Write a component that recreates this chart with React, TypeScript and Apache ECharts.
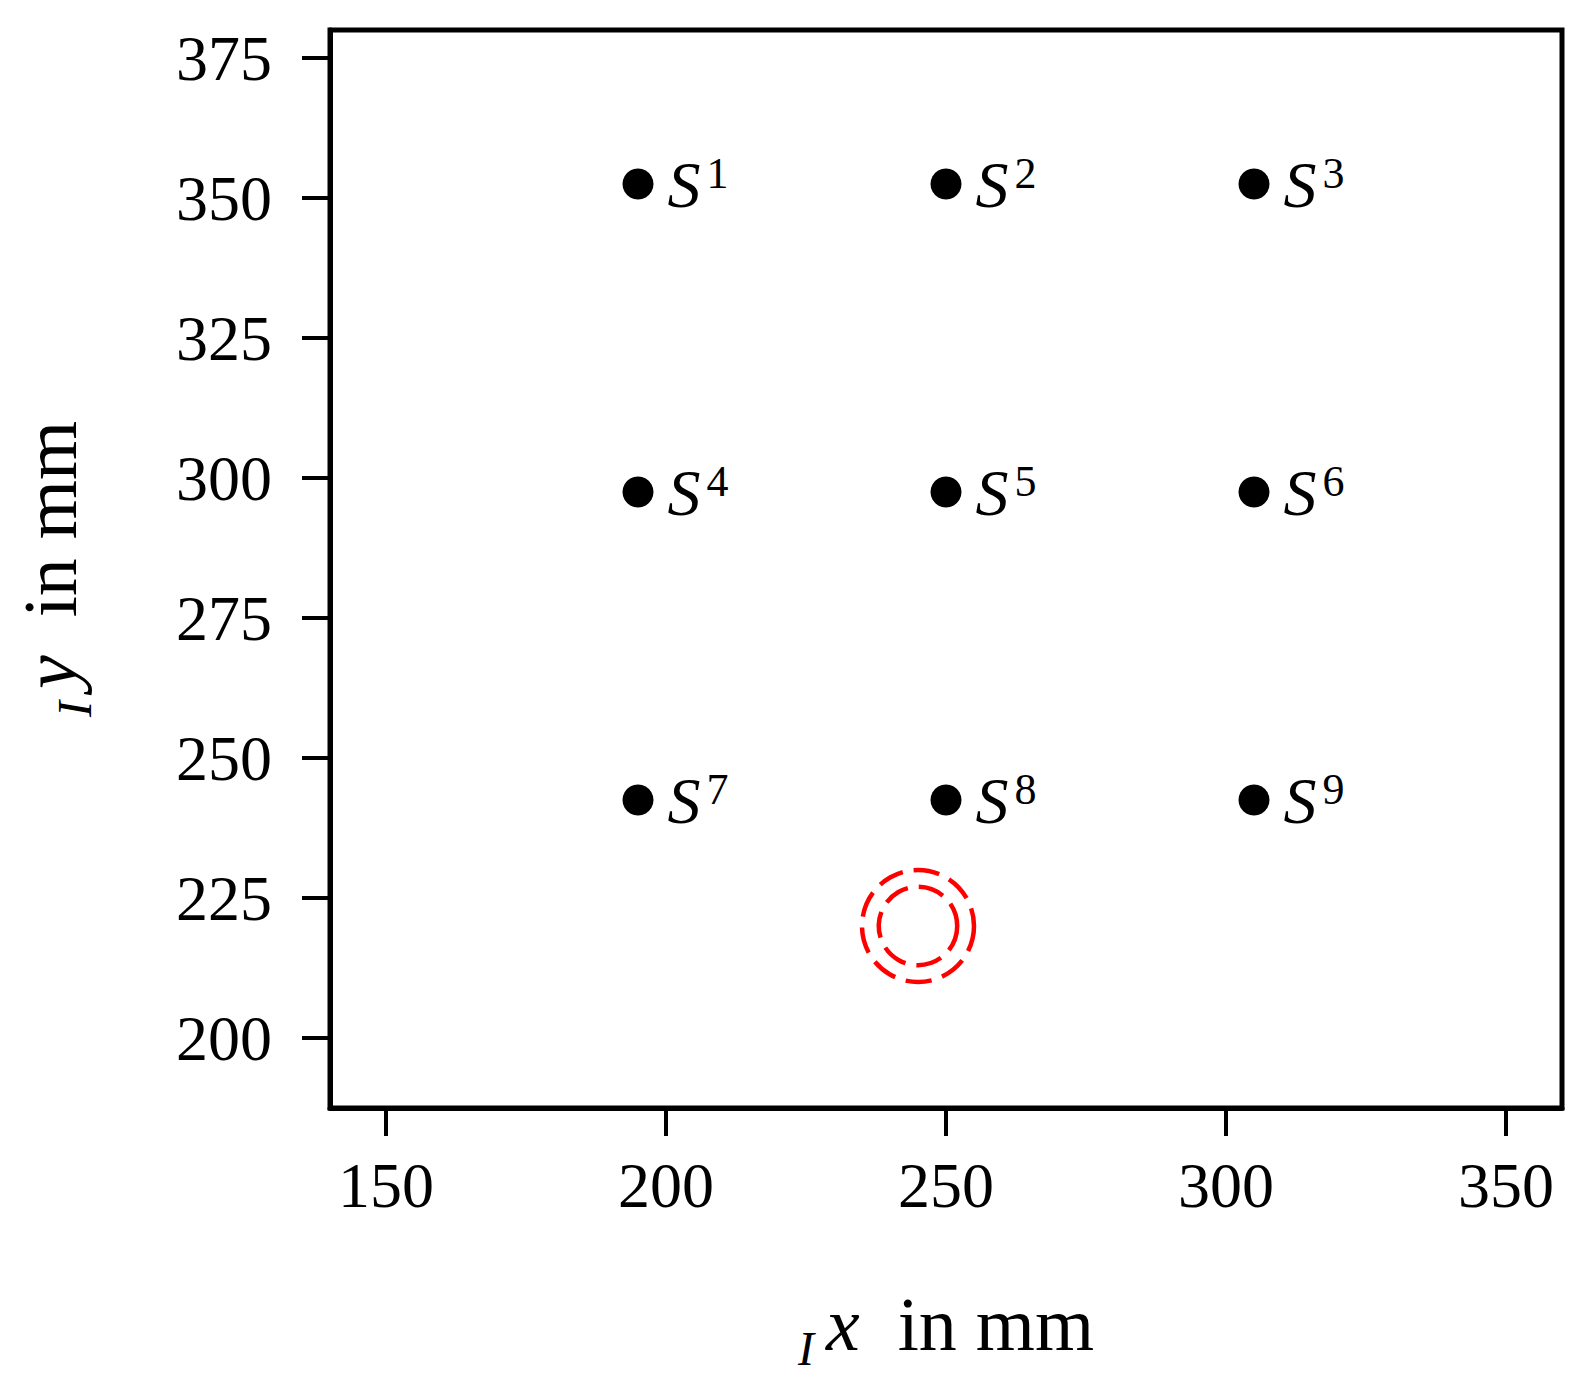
import React, { useEffect, useRef } from "react";
import * as echarts from "echarts";

const xTicks = [150, 200, 250, 300, 350];
const yTicks = [200, 225, 250, 275, 300, 325, 350, 375];
const xRange = [140, 360];
const yRange = [187.5, 380];

const sensorX = [195, 250, 305, 195, 250, 305, 195, 250, 305];
const sensorY = [352.5, 352.5, 352.5, 297.5, 297.5, 297.5, 242.5, 242.5, 242.5];
const sensorIndex = ["1", "2", "3", "4", "5", "6", "7", "8", "9"];

const ringX = [245, 245];
const ringY = [220, 220];
const ringRadius = [10, 7];

const FONT = "'Liberation Serif', 'DejaVu Serif', serif";

const nameRich = {
  sub: { fontFamily: FONT, fontStyle: "italic", fontSize: 48, verticalAlign: "bottom", lineHeight: 96, color: "#000", padding: [0, 12, 0, 0] },
  it: { fontFamily: FONT, fontStyle: "italic", fontSize: 76, lineHeight: 76, color: "#000" },
  n: { fontFamily: FONT, fontSize: 76, lineHeight: 76, color: "#000" },
};

export default function App() {
  const ref = useRef<HTMLDivElement>(null);
  useEffect(() => {
    if (!ref.current) return;
    const chart = echarts.init(ref.current, null, { renderer: "svg" });
    const sensors = sensorX.map((x, i) => [x, sensorY[i], sensorIndex[i]]);
    const rings = ringX.map((x, i) => [x, ringY[i], ringRadius[i]]);
    chart.setOption({
      animation: false,
      backgroundColor: "#fff",
      grid: {
        left: 330,
        top: 30,
        width: 1232,
        height: 1078,
        show: true,
        borderColor: "#000",
        borderWidth: 5,
        containLabel: false,
        outerBoundsMode: "none",
      },
      xAxis: {
        type: "value",
        min: xRange[0],
        max: xRange[1],
        splitLine: { show: false },
        axisLine: { show: true, lineStyle: { color: "#000", width: 5 } },
        axisTick: {
          show: true,
          length: 28,
          lineStyle: { color: "#000", width: 4 },
          customValues: xTicks,
        },
        axisLabel: {
          customValues: xTicks,
          color: "#000",
          fontFamily: FONT,
          fontSize: 64,
          margin: 45,
        },
        name: "{sub|I}{it|x}{n|  in mm}",
        nameLocation: "middle",
        nameGap: 168,
        nameTextStyle: { color: "#000", fontFamily: FONT, fontSize: 76, rich: nameRich },
      },
      yAxis: {
        type: "value",
        min: yRange[0],
        max: yRange[1],
        splitLine: { show: false },
        axisLine: { show: true, lineStyle: { color: "#000", width: 5 } },
        axisTick: {
          show: true,
          length: 28,
          lineStyle: { color: "#000", width: 4 },
          customValues: yTicks,
        },
        axisLabel: {
          customValues: yTicks,
          color: "#000",
          fontFamily: FONT,
          fontSize: 64,
          margin: 58,
        },
        name: "{sub|I}{it|y}{n|  in mm}",
        nameLocation: "middle",
        nameGap: 232,
        nameTextStyle: { color: "#000", fontFamily: FONT, fontSize: 76, rich: nameRich },
      },
      series: [
        {
          type: "scatter",
          data: sensors,
          symbol: "circle",
          symbolSize: 31,
          itemStyle: { color: "#000", opacity: 1 },
          label: {
            show: true,
            position: "right",
            distance: 14,
            color: "#000",
            formatter: (p: any) => `{s|S}{sup|${p.data[2]}}`,
            rich: {
              s: { fontFamily: FONT, fontStyle: "italic", fontSize: 66, lineHeight: 66, color: "#000" },
              sup: { fontFamily: FONT, fontSize: 44, lineHeight: 66, verticalAlign: "top", color: "#000", padding: [0, 0, 0, 6] },
            },
          },
          emphasis: { disabled: true },
        },
        {
          type: "custom",
          data: rings,
          renderItem: (params: any, api: any) => {
            const c = api.coord([api.value(0), api.value(1)]);
            const r = api.size([api.value(2), 0])[0];
            return {
              type: "circle",
              shape: { cx: c[0], cy: c[1], r },
              style: { fill: "none", stroke: "#ff0000", lineWidth: 4.5, lineDash: [26, 11] },
            };
          },
        },
      ],
    });
    return () => chart.dispose();
  }, []);
  return (
    <div
      ref={ref}
      style={{ position: "absolute", left: 0, top: 0, width: 1587, height: 1395 }}
    />
  );
}
